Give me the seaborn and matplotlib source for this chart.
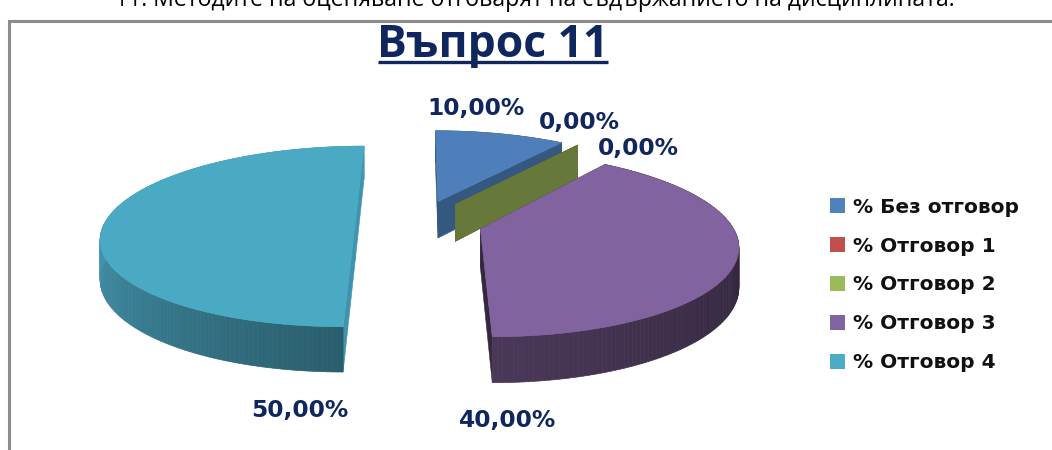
import numpy as np
import matplotlib
matplotlib.use("Agg")
import matplotlib.pyplot as plt
import matplotlib.colors as mcolors
from matplotlib.collections import PolyCollection
from matplotlib.patches import Patch, Polygon
import seaborn as sns

# chart data
categories = ["% Без отговор", "% Отговор 1", "% Отговор 2", "% Отговор 3", "% Отговор 4"]
values = [10.0, 0.0, 0.0, 40.0, 50.0]
top_colors = ["#4f81bd", "#c0504d", "#9bbb59", "#8064a2", "#4bacc6"]
top_face_colors = ["#4f7fba", "#c0504d", "#66783a", "#81639f", "#4aaac4"]
cut_colors = ["#34587f", "#7f3533", "#66783a", "#33283f", "#3f93ad"]
wall_near = ["#34587f", "#7f3533", "#66783a", "#4a3858", "#2a5e6c"]
wall_side = ["#34587f", "#7f3533", "#66783a", "#2e2338", "#4496b0"]
title = "Въпрос 11"
page_text = "11. Методите на оценяване отговарят на съдържанието на дисциплината."

# pixel layout of the fake 3d pie
CX, CY = 419, 222
RX, RY = 250, 88
PERSP = 0.16
DEPTH = 38
EXPLODE = 0.255
label_xy = [(476, 109), (579, 123), (638, 148), (508, 420), (300, 411)]

sns.set_theme(style="white")
plt.rcParams["font.family"] = ["DejaVu Sans"]
palette = sns.color_palette(top_colors)


def project(u, v, lift=0.0):
    s = 1.0 / (1.0 + PERSP * v)
    return CX + RX * u * s, CY - RY * v * s + lift * s


def blend(c1, c2, t):
    a, b = np.array(mcolors.to_rgb(c1)), np.array(mcolors.to_rgb(c2))
    return tuple(a + (b - a) * t)


fig = plt.figure(figsize=(10.52, 4.5), dpi=100)
ax = fig.add_axes([0, 0, 1, 1])
ax.set_xlim(0, 1052)
ax.set_ylim(450, 0)
ax.axis("off")

# grey chart frame, cut by the page edge
ax.plot([9, 9, 1052], [450, 21, 21], color="#8c8c8c", lw=2.2, solid_joinstyle="miter")

start = 90.0
for i, val in enumerate(values):
    sweep = val / sum(values) * 360.0
    th = np.radians(np.linspace(start, start - sweep, max(2, int(sweep) + 2)))
    mid = np.radians(start - sweep / 2)
    du, dv = EXPLODE * np.cos(mid), EXPLODE * np.sin(mid)
    us, vs = du + np.cos(th), dv + np.sin(th)

    apex_t, apex_b = project(du, dv), project(du, dv, DEPTH)

    # cut faces
    for k in (0, -1):
        face = [apex_t, project(us[k], vs[k]), project(us[k], vs[k], DEPTH), apex_b]
        ax.add_patch(Polygon(face, closed=True, fc=cut_colors[i], ec=cut_colors[i], lw=0.4))

    # outer wall, shaded along the arc
    if val > 0:
        quads, cols = [], []
        for j in range(len(th) - 1):
            quads.append([project(us[j], vs[j]), project(us[j + 1], vs[j + 1]),
                           project(us[j + 1], vs[j + 1], DEPTH), project(us[j], vs[j], DEPTH)])
            dist = min(1.0, abs(abs(np.degrees(th[j]) + 90)) / 90.0)
            cols.append(blend(wall_near[i], wall_side[i], dist))
        ax.add_collection(PolyCollection(quads, facecolors=cols, edgecolors=cols, linewidths=0.5))

        top = [apex_t] + [project(a, b) for a, b in zip(us, vs)]
        ax.add_patch(Polygon(top, closed=True, fc=top_face_colors[i], ec=top_face_colors[i], lw=0.4))

    start -= sweep

navy = "#10265f"
for (x, y), val in zip(label_xy, values):
    txt = f"{val:.2f}".replace(".", ",") + "%"
    ax.text(x, y, txt, color=navy, fontsize=16.8, fontweight="bold", ha="center", va="center")

ax.text(493, 45, title, color=navy, fontsize=32, fontweight="bold", family="Open Sans",
        ha="center", va="center")
ax.plot([378, 608], [62, 62], color=navy, lw=2.4, solid_capstyle="butt")
ax.text(535, 0, page_text, color="black", fontsize=16.6, family="Open Sans", ha="center", va="center")

handles = [Patch(fc=c, ec="none") for c in palette]
ax.legend(handles, categories, loc="center left", bbox_to_anchor=(830 / 1052, 1 - 285 / 450),
          frameon=False, prop={"size": 14.5, "weight": "bold"}, labelcolor="#111111",
          handlelength=0.75, handleheight=0.75, handletextpad=0.4, labelspacing=0.99, borderpad=0, borderaxespad=0)

plt.savefig("out.png", dpi=100)
